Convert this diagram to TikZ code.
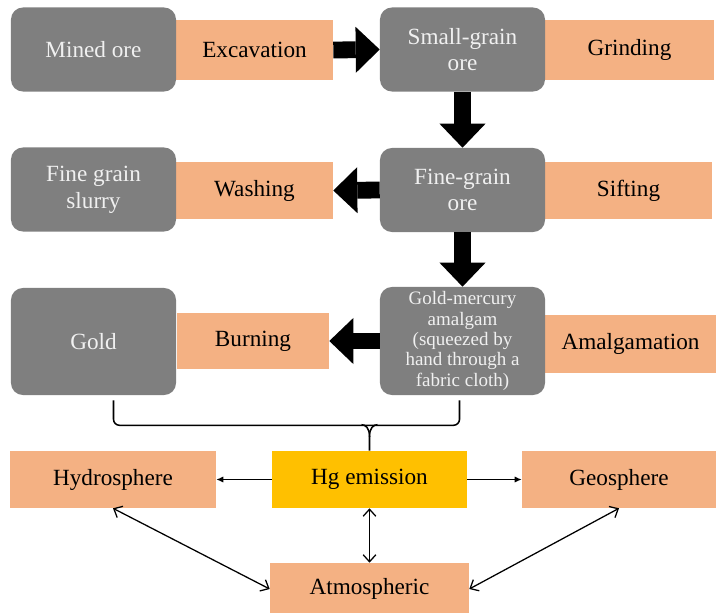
\documentclass[tikz,border=0pt]{standalone}
\usepackage{fontspec}
\setmainfont{Liberation Serif}
\usetikzlibrary{arrows.meta}
\definecolor{oregray}{HTML}{7F7F7F}
\definecolor{steporange}{HTML}{F4B183}
\definecolor{hgyellow}{HTML}{FFC000}
\definecolor{paletext}{HTML}{F0F0F0}

\begin{document}
\begin{tikzpicture}[x=0.025cm,y=-0.025cm,
    ore/.style={fill=oregray, rounded corners=0.3cm, text=paletext, align=center,
      minimum width=4.125cm, minimum height=2.1cm, inner sep=2pt,
      font=\fontsize{16.5}{19}\selectfont},
    stage/.style={fill=steporange, align=center, inner sep=0pt,
      font=\fontsize{16.5}{19}\selectfont},
    fat/.style={line width=0.42cm,
      -{Triangle[length=0.6cm 0 0, width=1.15cm 0 0, line width=0pt 0 0]}},
    thinarr/.style={line width=0.9pt, -{Latex[length=5pt, width=4.5pt]}},
    both/.style={line width=0.9pt,
      {Straight Barb[length=5pt, width=9pt]}-{Straight Barb[length=5pt, width=9pt]}}]
  \useasboundingbox (0,0) rectangle (717,612);
  \node[stage, minimum width=3.925cm, minimum height=1.5cm] (excav) at (254.5,50) {Excavation};
  \node[stage, minimum width=4.225cm, minimum height=1.5cm] (grind) at (629.5,50) {Grinding};
  \node[stage, minimum width=3.925cm, minimum height=1.425cm] (wash) at (254.5,190.5) {Washing};
  \node[stage, minimum width=4.175cm, minimum height=1.425cm] (sift) at (628.5,190.5) {Sifting};
  \node[stage, minimum width=3.8cm, minimum height=1.4cm] (burn) at (253,341) {Burning};
  \node[stage, minimum width=4.275cm, minimum height=1.45cm] (amalg) at (630.5,344) {Amalgamation};
  \node[ore] (mined) at (93.5,49.5) {Mined ore};
  \node[ore] (small) at (462.5,49.5) {Small-grain\\ore};
  \node[ore] (slurry) at (93.5,189.5) {Fine grain\\slurry};
  \node[ore] (fine) at (462.5,190) {Fine-grain\\ore};
  \node[ore, minimum height=2.675cm] (gold) at (93.5,341.5) {Gold};
  \node[ore, minimum height=2.7cm, font=\fontsize{13.5}{14.5}\selectfont] (amal) at (462.5,341)
    {Gold-mercury\\amalgam\\(squeezed by\\hand through a\\fabric cloth)};
  \draw[fat] (excav.east) -- (small.west);
  \draw[fat] (small.south) -- (fine.north);
  \draw[fat] (fine.west) -- (wash.east);
  \draw[fat] (fine.south) -- (amal.north);
  \draw[fat] (amal.west) -- (burn.east);
  \node[stage, minimum width=5.15cm, minimum height=1.425cm] (hydro) at (113,479.5) {Hydrosphere};
  \node[stage, fill=hgyellow, minimum width=4.875cm, minimum height=1.425cm] (hg) at (369.5,479.5) {Hg emission};
  \node[stage, minimum width=4.85cm, minimum height=1.425cm] (geo) at (619,479.5) {Geosphere};
  \node[stage, minimum width=4.975cm, minimum height=1.3cm] (atmo) at (369.5,589) {Atmospheric};
  \draw[line width=1.1pt, rounded corners=0.15cm] ([shift={(20,5)}]gold.south) -- ++(0,25)
    -| ([shift={(-3,5)}]amal.south);
  \draw[line width=1.1pt] (hg.north) -- ++(0,-14) coordinate (tip)
    .. controls +(0,-9) and +(4,0) .. ++(-8,-12);
  \draw[line width=1.1pt] (tip) .. controls +(0,-9) and +(-4,0) .. ++(8,-12);
  \draw[thinarr] (hg.west) -- (hydro.east);
  \draw[thinarr] (hg.east) -- (geo.west);
  \draw[both] (hg.south) -- (atmo.north);
  \draw[both] (hydro.south) -- (atmo.west);
  \draw[both] (geo.south) -- (atmo.east);
\end{tikzpicture}
\end{document}
